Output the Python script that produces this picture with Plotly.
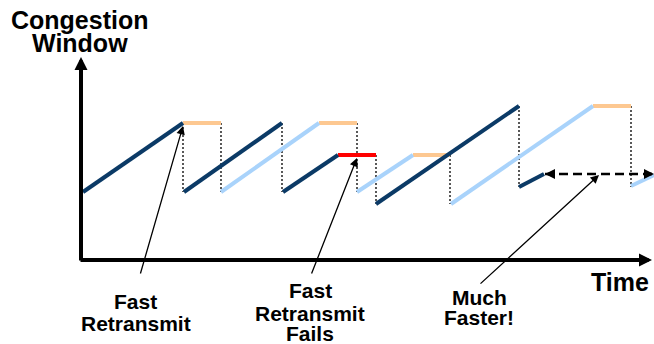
import plotly.graph_objects as go

# ---- data (time units, congestion-window units) ----
# primary flow (dark navy) sawtooth segments
dark_t = [2, 102, None, 103, 201, None, 202, 257, None, 295, 438, None, 438, 463]
dark_w = [68, 137, None, 68, 137, None, 68, 105, None, 56, 154, None, 73, 86]
# retransmitted flow (light blue)
light_t = [140, 238, None, 276, 332, None, 370, 512, None, 550, 573]
light_w = [68, 137, None, 68, 105, None, 56, 154, None, 74, 85]
# plateaus (waiting for timeout)
orange_t = [102, 140, None, 238, 276, None, 332, 369, None, 512, 550]
orange_w = [137, 137, None, 137, 137, None, 105, 105, None, 154, 154]
red_t = [257, 295]
red_w = [105, 105]
# dotted drops
drop_t = [102, 140, 201, 276, 295, 369, 438, 550]
drop_top = [137, 137, 137, 137, 105, 105, 154, 154]
drop_bot = [68, 68, 68, 68, 56, 56, 73, 73]
# "much faster" span
fast_t = [464, 573]
fast_w = [86, 86]

DARK = "#0b3a66"
LIGHT = "#a9d3fb"
ORANGE = "#fdc891"
RED = "#ff0000"
FONT = "Liberation Sans, Arial, sans-serif"

fig = go.Figure()

dt, dw = [], []
for t, a, b in zip(drop_t, drop_top, drop_bot):
    dt += [t, t, None]
    dw += [a, b, None]
fig.add_trace(go.Scatter(x=dt, y=dw, mode="lines",
                         line=dict(color="black", width=1.3, dash="2px,2px")))
fig.add_trace(go.Scatter(x=orange_t, y=orange_w, mode="lines",
                         line=dict(color=ORANGE, width=4)))
fig.add_trace(go.Scatter(x=red_t, y=red_w, mode="lines",
                         line=dict(color=RED, width=4)))
fig.add_trace(go.Scatter(x=light_t, y=light_w, mode="lines",
                         line=dict(color=LIGHT, width=4)))
fig.add_trace(go.Scatter(x=dark_t, y=dark_w, mode="lines",
                         line=dict(color=DARK, width=4)))
fig.add_trace(go.Scatter(x=fast_t, y=fast_w, mode="lines",
                         line=dict(color="black", width=2.5, dash="9px,5px")))

ann = []

def arrow(x, y, ax, ay, width, size):
    ann.append(dict(x=x, y=y, ax=ax, ay=ay, xref="x", yref="y", axref="x", ayref="y",
                    text="", showarrow=True, arrowhead=2, arrowwidth=width,
                    arrowsize=size, arrowcolor="black", standoff=0, startstandoff=0))

# axes
arrow(0, 203, 0, -2, 4, 0.65)
arrow(571, 0, -2, 0, 4, 0.65)
# dashed span heads
arrow(fast_t[0], fast_w[0], fast_t[0] + 8, fast_w[0], 2.5, 0.8)
arrow(fast_t[1], fast_w[1], fast_t[1] - 8, fast_w[1], 2.5, 0.8)
# callouts
arrow(102, 134, 59, -15, 1.3, 1.3)
arrow(276, 102, 230, -15, 1.3, 1.3)
arrow(518, 85, 398, -25, 1.3, 1.3)

def label(x, y, txt, size):
    ann.append(dict(x=x, y=y, xref="x", yref="y", text="<b>" + txt + "</b>",
                    showarrow=False, xanchor="center", yanchor="middle",
                    font=dict(family=FONT, size=size, color="black")))

label(-1.5, 240, "Congestion", 25)
label(-1.5, 217, "Window", 25)
label(539, -22, "Time", 25)
label(54.5, -41, "Fast", 21)
label(54.5, -63, "Retransmit", 21)
label(229, -30, "Fast", 21)
label(229, -53, "Retransmit", 21)
label(229, -73, "Fails", 21)
label(398, -37, "Much", 21)
label(398, -57, "Faster!", 21)

fig.update_layout(
    width=654, height=344,
    margin=dict(l=0, r=0, t=0, b=0),
    paper_bgcolor="white", plot_bgcolor="white",
    showlegend=False,
    xaxis=dict(range=[-81, 573], visible=False, fixedrange=True),
    yaxis=dict(range=[-84, 260], visible=False, fixedrange=True),
    annotations=ann,
)

fig.write_html(
    "out.html",
    config={"displayModeBar": False, "staticPlot": True},
    post_script="document.body.style.margin='0';document.body.style.overflow='hidden';",
)
